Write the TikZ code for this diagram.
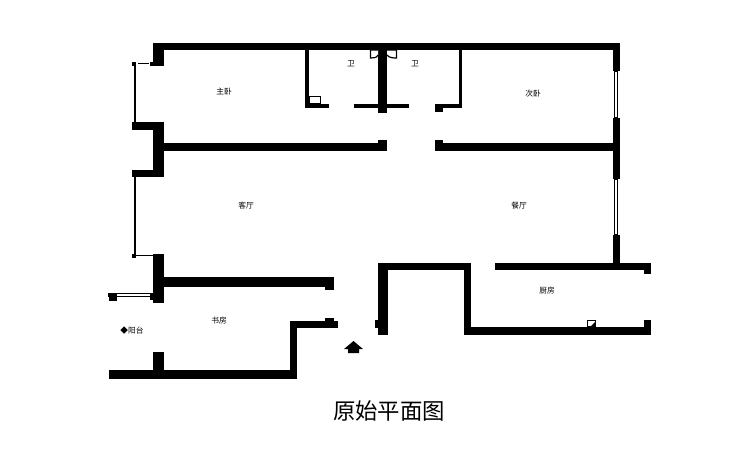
\documentclass[tikz,border=0pt]{standalone}
\usepackage{fontspec}
\newfontfamily\cjk{Noto Sans CJK SC}
\tikzset{x=0.75pt, y=-0.75pt,
wall/.style={fill=black, draw=none},
thin line/.style={draw=black, line width=1.2pt},
room/.style={font=\cjk\fontsize{5.8}{6}\selectfont, inner sep=0pt},
fixture/.style={draw=black, fill=white, line width=0.9pt},
glass/.style={draw=black, fill=white, line width=0.8pt}}
\begin{document}
\begin{tikzpicture}
\useasboundingbox (0,0) rectangle (749,455);
% outer walls, top
\fill[wall] (153,43) rectangle (620,50);
\fill[wall] (153,43) rectangle (164,66);
\fill[wall] (150,62) rectangle (153,66);
\fill[wall] (613,50) rectangle (620,71);
\fill[wall] (613,118) rectangle (620,179);
\fill[wall] (613,235) rectangle (620,263);
% left side
\fill[wall] (132,122) rectangle (164,130);
\fill[wall] (153,122) rectangle (164,177);
\fill[wall] (132,170) rectangle (164,177);
\fill[wall] (153,254) rectangle (164,303);
\fill[wall] (164,277) rectangle (334,287);
\fill[wall] (325,287) rectangle (334,290);
% middle wall
\fill[wall] (164,143) rectangle (387,151);
\fill[wall] (378,140) rectangle (387,151);
\fill[wall] (435,143) rectangle (620,151);
\fill[wall] (435,140) rectangle (443,151);
% bathrooms
\fill[wall] (305,50) rectangle (309,108);
\fill[wall] (305,104) rectangle (329,108);
\fill[wall] (354,104) rectangle (409,108);
\fill[wall] (378,50) rectangle (387,113);
\fill[wall] (435,104) rectangle (462,108);
\fill[wall] (435,104) rectangle (443,112);
\fill[wall] (459,50) rectangle (462,108);
% study
\fill[wall] (109,370) rectangle (297,379);
\fill[wall] (153,352) rectangle (164,370);
\fill[wall] (290,321) rectangle (297,379);
\fill[wall] (290,321) rectangle (338,328);
\fill[wall] (325,318) rectangle (334,321);
% lower right
\fill[wall] (378,263) rectangle (471,270);
\fill[wall] (378,263) rectangle (388,335);
\fill[wall] (375,320) rectangle (378,328);
\fill[wall] (464,263) rectangle (471,335);
\fill[wall] (464,327) rectangle (651,335);
\fill[wall] (495,263) rectangle (651,270);
\fill[wall] (644,270) rectangle (651,274);
\fill[wall] (644,320) rectangle (651,327);
% windows
\fill[wall] (132,62) rectangle (136,66);
\draw[thin line] (138,63.5) -- (149,63.5);
\draw[thin line] (135,66) -- (135,122);
\draw[thin line] (135,177) -- (135,254);
\fill[wall] (132,254) rectangle (136,258);
\draw[thin line] (136,255.5) -- (153,255.5);
\draw[glass] (614.5,71) rectangle (617.5,118);
\draw[glass] (614.5,179) rectangle (617.5,235);
\draw[glass] (109,293.5) rectangle (153,296.5);
\fill[wall] (109,293) rectangle (117,301);
\fill[wall] (150,293) rectangle (153,300);
% fixtures
\draw[fixture] (309.5,96.5) rectangle (320.5,104);
\draw[fixture] (587.5,320.5) rectangle (595.5,327);
\fill[wall] (590,327) -- (595,327) -- (595,322) -- cycle;
\draw[fixture] (378,50) -- (370.5,50) -- (370.5,58) .. controls (373,58) and (377,58) .. (378,55);
\draw[fixture] (387,50) -- (396.5,50) -- (396.5,58) .. controls (394,58) and (389,58) .. (387,55);
% entrance arrow
\fill[wall] (353.5,341) -- (363,349) -- (359,349) -- (359,353) -- (348,353) -- (348,349) -- (344,349) -- cycle;
% labels
\node[room] (master) at (224,92) {主卧};
\node[room] (second) at (533,94) {次卧};
\node[room] (bathl) at (351,64) {卫};
\node[room] (bathr) at (415,64) {卫};
\node[room] (living) at (246,206) {客厅};
\node[room] (dining) at (519,206) {餐厅};
\node[room] (study) at (219,321) {书房};
\node[room] (kitchen) at (547,291) {厨房};
\node[room] (balcony) at (132,331) {◆阳台};
\node[font=\cjk\fontsize{16.8}{18}\selectfont, inner sep=0pt] (title) at (389,411) {原始平面图};
\end{tikzpicture}
\end{document}
